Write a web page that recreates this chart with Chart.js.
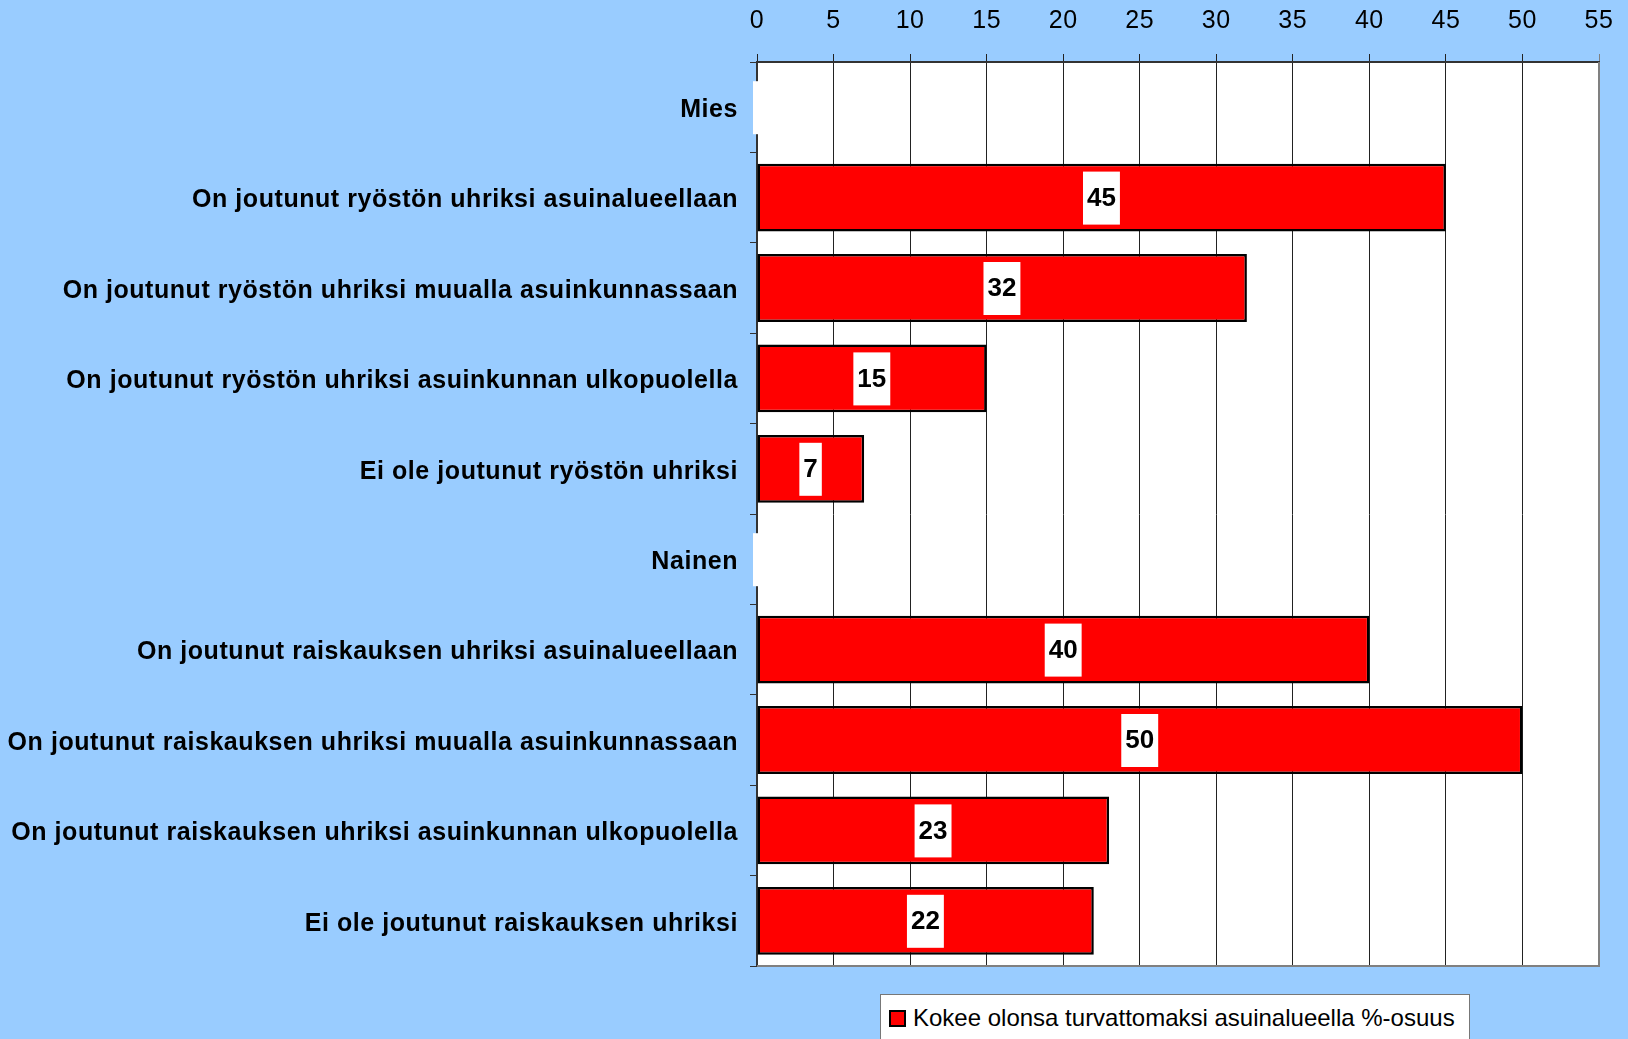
<!DOCTYPE html>
<html>
<head>
<meta charset="utf-8">
<script src="https://cdn.jsdelivr.net/npm/chart.js@4"></script>
<style>
  html, body { margin: 0; padding: 0; background: #99ccff; }
  #wrap { position: relative; width: 1628px; height: 1039px; }
  #legend {
    position: absolute; left: 880px; top: 994px; width: 590px; height: 60px;
    background: #fff; border: 1px solid #777; box-sizing: border-box;
    font: 24px "Liberation Sans", Arial, sans-serif; color: #000;
    padding: 9px 0 0 8px; white-space: nowrap;
  }
  #legend span.sw {
    display: inline-block; width: 13px; height: 13px; background: #ff0000;
    border: 2px solid #000; margin-right: 7px; vertical-align: -1px;
  }
</style>
</head>
<body>
<div id="wrap">
  <canvas id="myChart" width="1628" height="1039"></canvas>
  <div id="legend"><span class="sw"></span>Kokee olonsa turvattomaksi asuinalueella %-osuus</div>
</div>
<script>
const categories = [
  "Mies",
  "On joutunut ryöstön uhriksi asuinalueellaan",
  "On joutunut ryöstön uhriksi muualla asuinkunnassaan",
  "On joutunut ryöstön uhriksi asuinkunnan ulkopuolella",
  "Ei ole joutunut ryöstön uhriksi",
  "Nainen",
  "On joutunut raiskauksen uhriksi asuinalueellaan",
  "On joutunut raiskauksen uhriksi muualla asuinkunnassaan",
  "On joutunut raiskauksen uhriksi asuinkunnan ulkopuolella",
  "Ei ole joutunut raiskauksen uhriksi"
];
const values = [null, 45, 32, 15, 7, null, 40, 50, 23, 22];
const seriesName = "Kokee olonsa turvattomaksi asuinalueella %-osuus";
const xMax = 55;
const xStep = 5;

// white plot area with grey right/bottom edge
const plotBg = {
  id: "plotBg",
  beforeDraw(chart) {
    const { ctx, chartArea: a } = chart;
    ctx.save();
    ctx.fillStyle = "#ffffff";
    ctx.fillRect(a.left, a.top, a.right - a.left, a.bottom - a.top);
    ctx.restore();
    ctx.letterSpacing = "0.55px"; // axis labels in the original are a bit spread out
  },
  beforeDatasetsDraw(chart) {
    chart.ctx.letterSpacing = "0px";
  },
  afterDraw(chart) {
    const { ctx, chartArea: a } = chart;
    ctx.save();
    ctx.strokeStyle = "#808080";
    ctx.lineWidth = 2;
    ctx.beginPath();
    ctx.moveTo(a.left, a.bottom);
    ctx.lineTo(a.right, a.bottom);
    ctx.lineTo(a.right, a.top);
    ctx.stroke();
    ctx.restore();
  }
};

// value labels on white boxes
const valueLabels = {
  id: "valueLabels",
  afterDatasetsDraw(chart) {
    const { ctx } = chart;
    const xs = chart.scales.x, ys = chart.scales.y;
    ctx.save();
    ctx.font = "bold 26px 'Liberation Sans', Arial, sans-serif";
    ctx.textAlign = "center";
    ctx.textBaseline = "middle";
    values.forEach((v, i) => {
      const y = ys.getPixelForValue(i);
      const x0 = xs.getPixelForValue(0);
      let cx, w;
      if (v === null) {
        cx = x0 + 1; w = 10;
      } else {
        cx = (x0 + xs.getPixelForValue(v)) / 2;
        w = ctx.measureText(String(v)).width + 8;
      }
      ctx.fillStyle = "#ffffff";
      ctx.fillRect(cx - w / 2, y - 26, w, 53);
      if (v !== null) {
        ctx.fillStyle = "#000000";
        ctx.fillText(String(v), cx, y + 1);
      }
    });
    ctx.restore();
  }
};

Chart.defaults.font.family = "'Liberation Sans', Arial, sans-serif";
Chart.defaults.color = "#000";

new Chart(document.getElementById("myChart").getContext("2d"), {
  type: "bar",
  data: {
    labels: categories,
    datasets: [
      {
        label: seriesName,
        data: values,
        backgroundColor: "#ff0000",
        borderColor: "#000000",
        borderWidth: 2.5,
        borderSkipped: false,
        categoryPercentage: 0.75,
        barPercentage: 1.0
      }
    ]
  },
  plugins: [plotBg, valueLabels],
  options: {
    indexAxis: "y",
    responsive: false,
    animation: false,
    layout: { padding: { left: 0, right: 29, top: 0, bottom: 73 } },
    plugins: {
      legend: { display: false },
      tooltip: { enabled: false }
    },
    scales: {
      x: {
        position: "top",
        min: 0,
        max: xMax,
        afterFit: (s) => {
          s.height = 62;
          s.paddingLeft = 0;
          s.paddingRight = 0;
        },
        ticks: {
          stepSize: xStep,
          padding: 18,
          font: { size: 25 },
          color: "#000"
        },
        grid: {
          color: (c) => (c.tick && c.tick.value === xMax ? "#808080" : "#222222"),
          lineWidth: 1,
          tickLength: 8,
          drawTicks: true
        },
        border: { color: "#333333", width: 2 }
      },
      y: {
        afterFit: (s) => { s.width = 757; },
        ticks: {
          padding: 12,
          labelOffset: 3,
          font: { size: 25, weight: "bold" },
          color: "#000",
          autoSkip: false
        },
        grid: {
          drawOnChartArea: false,
          drawTicks: true,
          tickLength: 7,
          color: "#333333",
          offset: true
        },
        border: { color: "#333333", width: 2 }
      }
    }
  }
});
</script>
</body>
</html>
